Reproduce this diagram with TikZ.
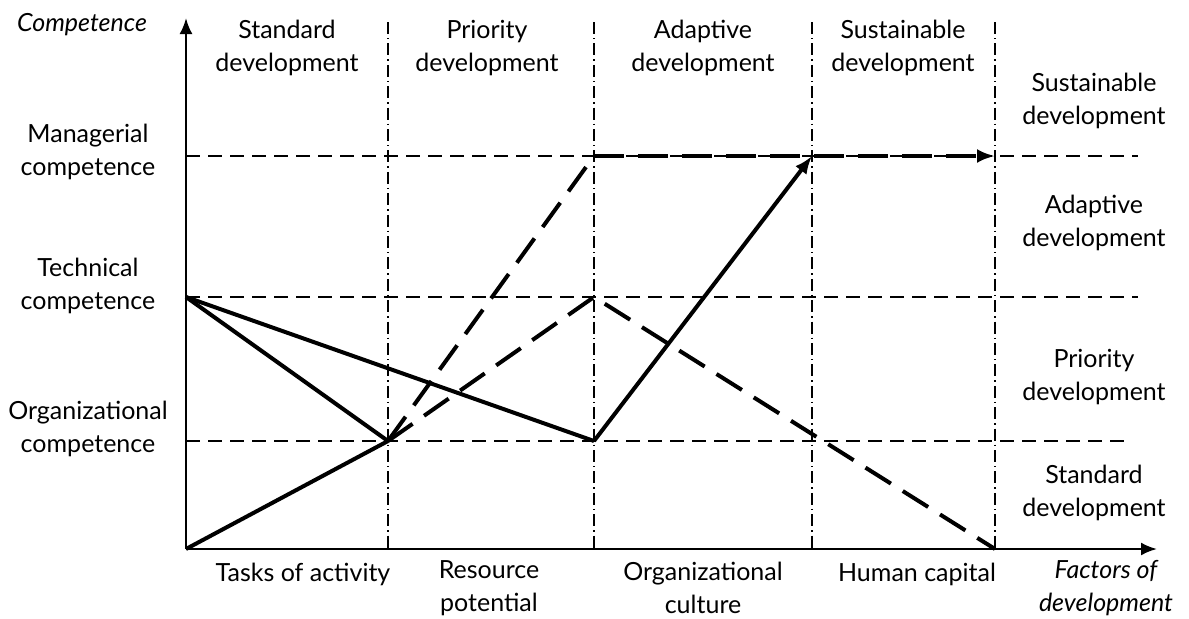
\documentclass[tikz,border=0pt]{standalone}
\usepackage{fontspec}
\setmainfont{Lato}
\usetikzlibrary{arrows.meta}

\begin{document}
\begin{tikzpicture}[x=0.5pt,y=-0.5pt,
        every node/.style={align=center,font=\fontsize{12.5}{16.5}\selectfont},
        axis/.style={line width=1.2pt,-{Latex[length=8pt,width=6.5pt]}},
        level/.style={line width=0.9pt,dash pattern=on 7pt off 4pt},
        stage/.style={line width=0.7pt,dash pattern=on 6pt off 2pt on 0.7pt off 2pt},
        solidpath/.style={line width=2pt},
        dashpath/.style={line width=2pt,dash pattern=on 15pt off 7pt},
        tip/.style={-{Latex[length=9pt,width=7pt]}}]
    \useasboundingbox (0,0) rectangle (1189,618);
    % axes
    \coordinate (o) at (186,549);
    \coordinate (ytop) at (186,18);
    \coordinate (xend) at (1157,549);
    \draw[axis] (o) -- (ytop);
    \draw[axis] (o) -- (xend);
    % stage borders
    \foreach \x/\n in {388/1,594/2,812/3,995/4} {
        \coordinate (t\n) at (\x,22);
        \coordinate (b\n) at (\x,549);
        \draw[stage] (t\n) -- (b\n);
    }
    % competence levels
    \coordinate (man0) at (186,156);   \coordinate (manE) at (1138,156);
    \coordinate (tech0) at (186,297);  \coordinate (techE) at (1138,297);
    \coordinate (org0) at (186,441);   \coordinate (orgE) at (1130,441);
    \draw[level] (man0) -- (manE);
    \draw[level] (tech0) -- (techE);
    \draw[level] (org0) -- (orgE);
    % points
    \coordinate (org1) at (388,441);
    \coordinate (org2) at (594,441);
    \coordinate (tech2) at (594,297);
    \coordinate (man2) at (594,156);
    \coordinate (man3) at (812,156);
    \coordinate (man4) at (995,156);
    \coordinate (zero4) at (995,549);
    % trajectories
    \draw[solidpath] (o) -- (org1);
    \draw[solidpath] (tech0) -- (org1);
    \draw[solidpath] (tech0) -- (org2);
    \draw[solidpath,tip] (org2) -- (man3);
    \draw[dashpath] (org1) -- (man2);
    \draw[dashpath,tip] (man2) -- (man4);
    \draw[dashpath] (org1) -- (tech2) -- (zero4);
    % labels
    \node (ycap) at (82,25) {\itshape Competence};
    \node (xcap) at (1106,588) {\itshape Factors of\\\itshape development};
    \node (lman) at (88,152) {Managerial\\competence};
    \node (ltech) at (88,286) {Technical\\competence};
    \node (lorg) at (88,429) {Organizational\\competence};
    \node (s1) at (287,48) {Standard\\development};
    \node (s2) at (487,48) {Priority\\development};
    \node (s3) at (703,48) {Adaptive\\development};
    \node (s4) at (903,48) {Sustainable\\development};
    \node (r4) at (1094,101) {Sustainable\\development};
    \node (r3) at (1094,223) {Adaptive\\development};
    \node (r2) at (1094,377) {Priority\\development};
    \node (r1) at (1094,493) {Standard\\development};
    \node (f1) at (303,574) {Tasks of activity};
    \node (f2) at (489,588) {Resource\\potential};
    \node (f3) at (703,588) {Organizational\\culture};
    \node (f4) at (917,574) {Human capital};
\end{tikzpicture}
\end{document}
